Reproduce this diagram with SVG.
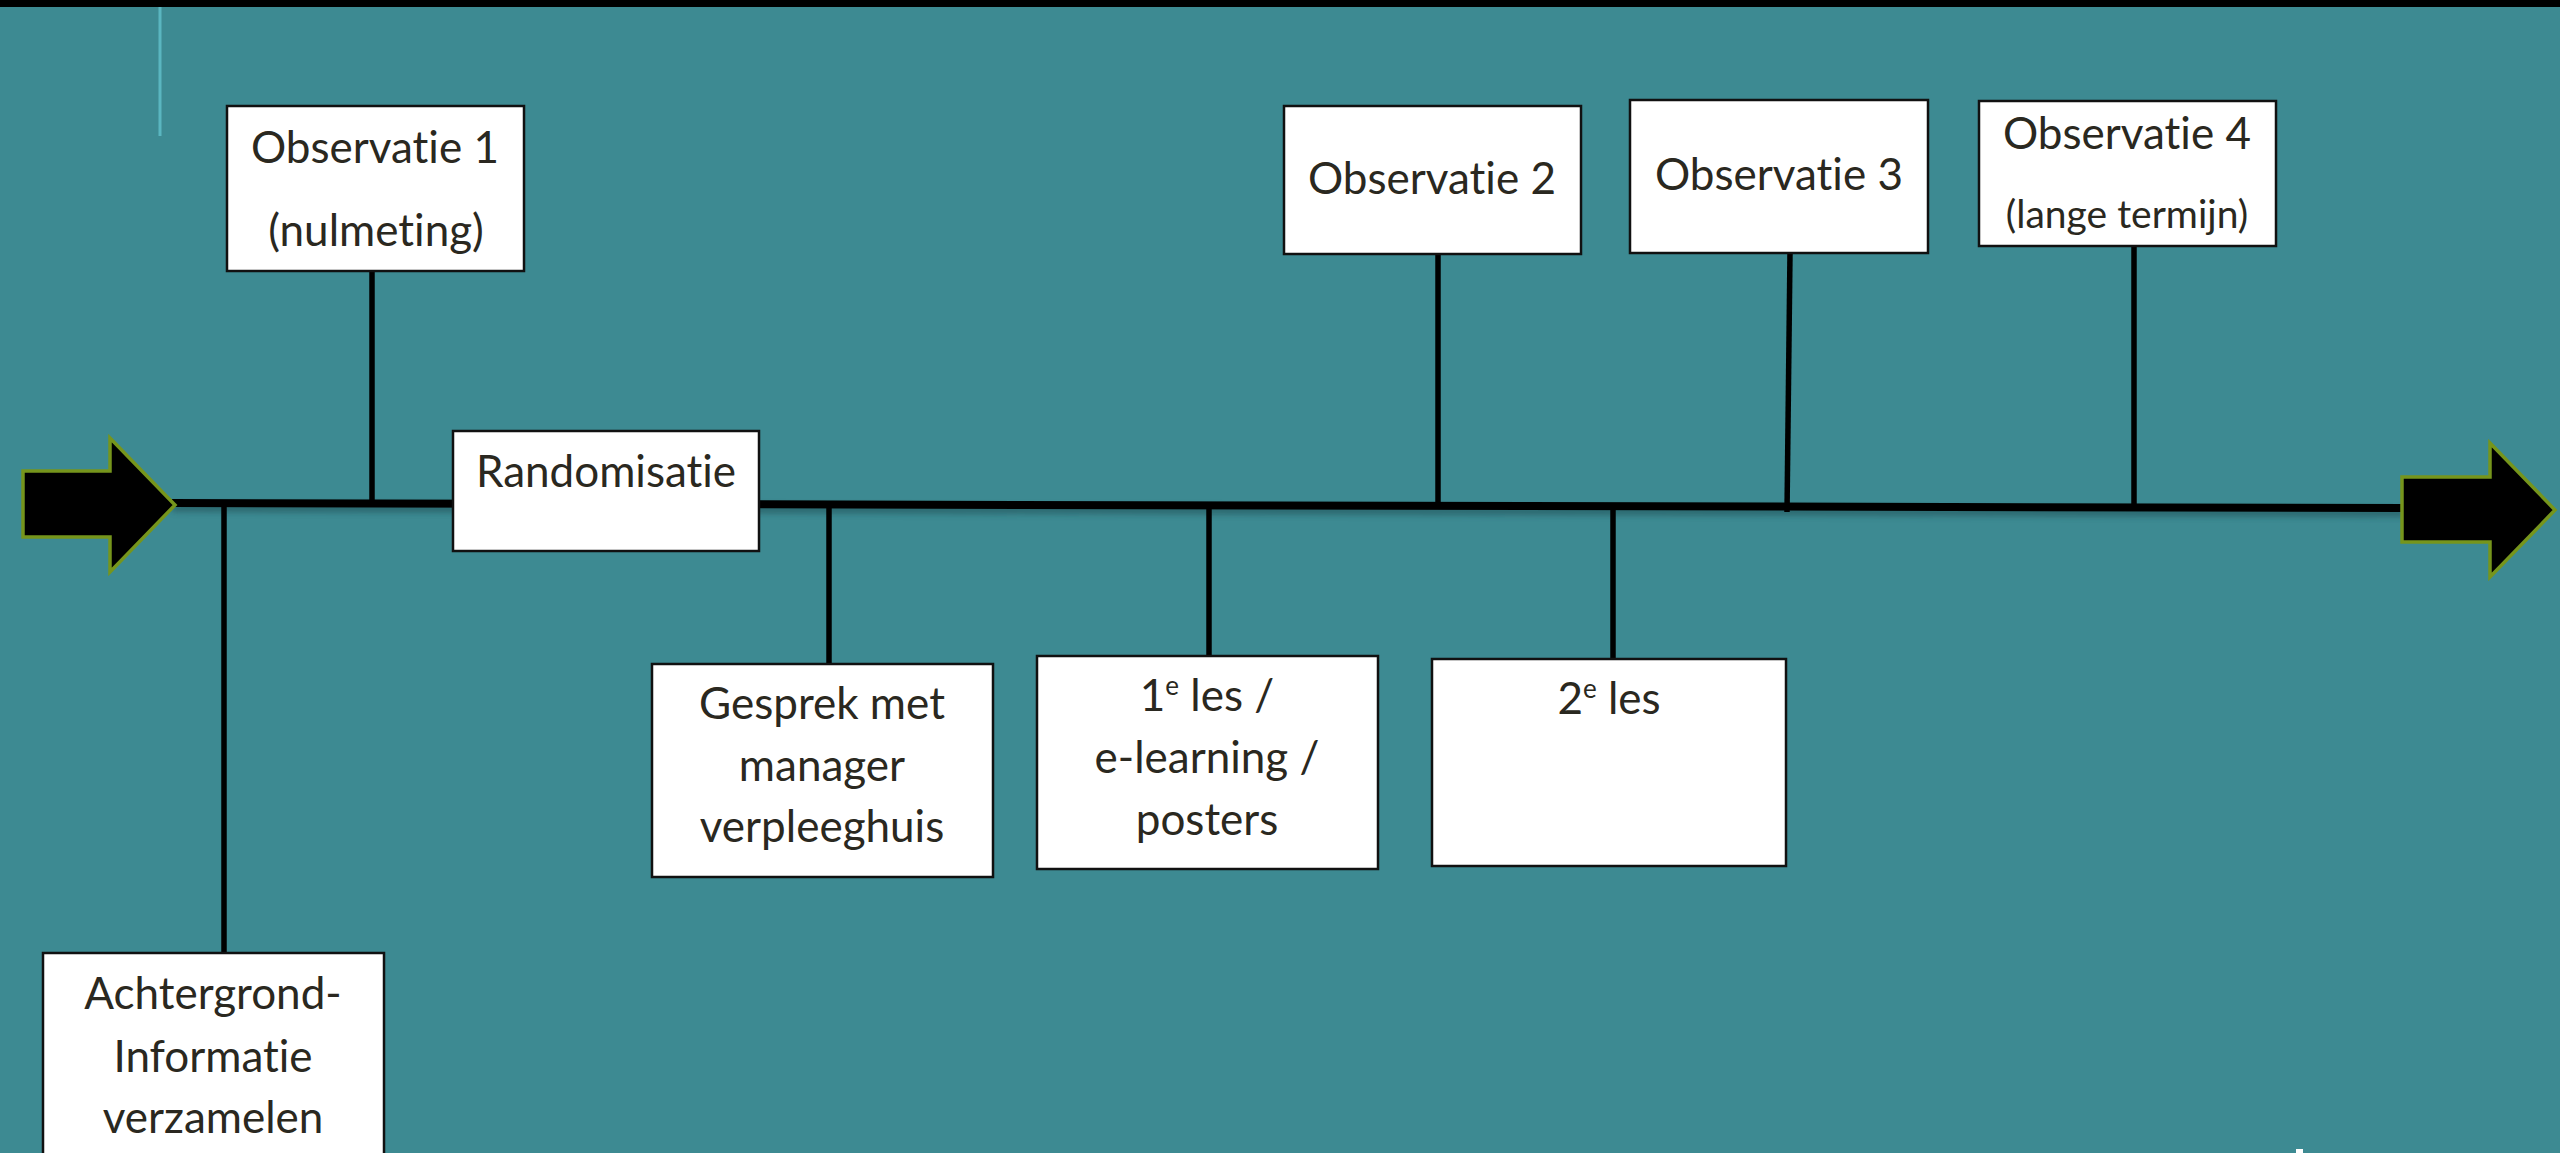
<svg xmlns="http://www.w3.org/2000/svg" width="2560" height="1153" viewBox="0 0 2560 1153">
<style>
.box{fill:#ffffff;stroke:#111111;stroke-width:2.5}
.t{font-family:Lato,"Open Sans","Liberation Sans",sans-serif;font-size:44px;fill:#2a2820;text-anchor:middle;font-variant-ligatures:none}
.sm{font-size:39px}
.sup{font-size:26px}
.conn{stroke:#000000;stroke-width:5.5;fill:none}
.arrow{fill:#000000;stroke:#76951c;stroke-width:3.5;stroke-linejoin:miter}
</style>
<defs>
<filter id="sh" x="-5%" y="-200%" width="110%" height="500%">
<feGaussianBlur stdDeviation="3"/>
</filter>
</defs>
<rect x="0" y="0" width="2560" height="1153" fill="#3d8a92"/>
<rect x="0" y="0" width="2560" height="7" fill="#000000"/>
<line x1="160" y1="7" x2="160" y2="136" stroke="#5ab6c0" stroke-width="3"/>
<rect x="2296" y="1149" width="7" height="4" fill="#ffffff"/>

<g id="connectors">
<line x1="172" y1="508" x2="2405" y2="513" stroke="#1f4a50" stroke-width="7" opacity="0.6" filter="url(#sh)"/>
<line class="conn" x1="172" y1="503" x2="2405" y2="508" style="stroke-width:8"/>
<line class="conn" x1="224" y1="503" x2="224" y2="953"/>
<line class="conn" x1="372" y1="271" x2="372" y2="504"/>
<line class="conn" x1="829" y1="505" x2="829" y2="664"/>
<line class="conn" x1="1209" y1="506" x2="1209" y2="656"/>
<line class="conn" x1="1438" y1="254" x2="1438" y2="507"/>
<line class="conn" x1="1613" y1="506" x2="1613" y2="659"/>
<line class="conn" x1="1790" y1="253" x2="1787" y2="512"/>
<line class="conn" x1="2134" y1="246" x2="2134" y2="509"/>
</g>

<g id="arrow-left">
<polygon class="arrow" points="23,471 110,471 110,438 175,505 110,572 110,537 23,537"/>
</g>
<g id="arrow-right">
<polygon class="arrow" points="2402,477 2490,477 2490,443 2555,510 2490,577 2490,542 2402,542"/>
</g>

<g id="obs1">
<rect class="box" x="227" y="106" width="297" height="165"/>
<text class="t" x="375" y="163">Observatie 1</text>
<text class="t" x="376" y="246">(nulmeting)</text>
</g>

<g id="randomisatie">
<rect class="box" x="453" y="431" width="306" height="120"/>
<text class="t" x="606" y="487">Randomisatie</text>
</g>

<g id="obs2">
<rect class="box" x="1284" y="106" width="297" height="148"/>
<text class="t" x="1432" y="194">Observatie 2</text>
</g>

<g id="obs3">
<rect class="box" x="1630" y="100" width="298" height="153"/>
<text class="t" x="1779" y="190">Observatie 3</text>
</g>

<g id="obs4">
<rect class="box" x="1979" y="101" width="297" height="145"/>
<text class="t" x="2127" y="149">Observatie 4</text>
<text class="t sm" x="2127" y="228">(lange termijn)</text>
</g>

<g id="achtergrond">
<rect class="box" x="43" y="953" width="341" height="210"/>
<text class="t" x="213" y="1009">Achtergrond-</text>
<text class="t" x="213" y="1072">Informatie</text>
<text class="t" x="213" y="1133">verzamelen</text>
</g>

<g id="gesprek">
<rect class="box" x="652" y="664" width="341" height="213"/>
<text class="t" x="822" y="719">Gesprek met</text>
<text class="t" x="822" y="781">manager</text>
<text class="t" x="822" y="842">verpleeghuis</text>
</g>

<g id="les1">
<rect class="box" x="1037" y="656" width="341" height="213"/>
<text class="t" x="1207" y="711">1<tspan class="sup" dy="-16">e</tspan><tspan dy="16"> les /</tspan></text>
<text class="t" x="1207" y="773">e-learning /</text>
<text class="t" x="1207" y="835">posters</text>
</g>

<g id="les2">
<rect class="box" x="1432" y="659" width="354" height="207"/>
<text class="t" x="1609" y="714">2<tspan class="sup" dy="-16">e</tspan><tspan dy="16"> les</tspan></text>
</g>
</svg>
